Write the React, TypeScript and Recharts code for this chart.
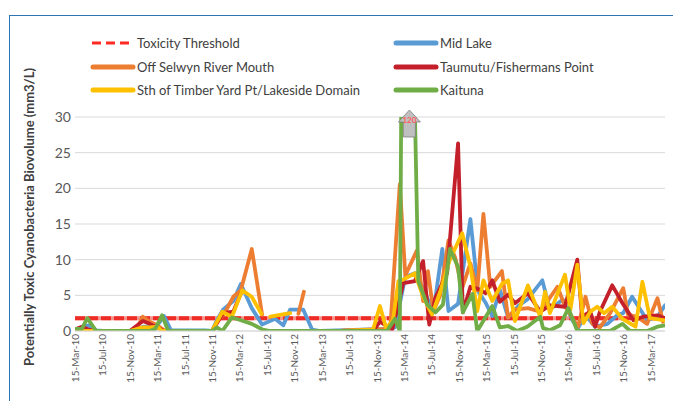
import React from 'react';
import { LineChart, Line, XAxis, YAxis, CartesianGrid, ReferenceDot } from 'recharts';

// x = months after 15-Mar-10, y = biovolume (mm3/L); null = no sample (gap in line)
type Pt = [number, number | null];

const tickLabels = [
  '15-Mar-10', '15-Jul-10', '15-Nov-10', '15-Mar-11', '15-Jul-11', '15-Nov-11',
  '15-Mar-12', '15-Jul-12', '15-Nov-12', '15-Mar-13', '15-Jul-13', '15-Nov-13',
  '15-Mar-14', '15-Jul-14', '15-Nov-14', '15-Mar-15', '15-Jul-15', '15-Nov-15',
  '15-Mar-16', '15-Jul-16', '15-Nov-16', '15-Mar-17',
];
const yTicks = [0, 5, 10, 15, 20, 25, 30];
const lastMonth = 86.1;
const threshold = 1.8;

const midLake: Pt[] = [
  [0, 0.2], [1.0, 0.5], [2.0, 0.8], [3.1, 0.1], [4.1, 0], [9.1, 0], [9.9, 0.6], [10.9, 0.6],
  [12.0, 0.8], [13.0, 2.1], [14.0, 0.1], [19.0, 0.1], [20.0, 0], [20.7, 1.5], [21.6, 3.0],
  [23.1, 4.2], [24.2, 6.6], [25.8, 3.2], [27.3, 0.9], [29.2, 1.7], [30.4, 0.8], [31.4, 3.0],
  [33.3, 3.0], [34.6, 0.2], [35.8, 0], [45.5, 0.3], [46.7, 0.5], [48.2, 7.6], [49.6, 8.1],
  [50.8, 6.0], [52.3, 2.6], [53.6, 11.5], [54.5, 2.8], [55.9, 3.8], [57.7, 15.7], [58.8, 5.6],
  [59.9, 4.0], [60.9, 2.1], [62.0, 5.8], [63.2, 1.9], [64.7, 3.5], [66.1, 4.5], [68.2, 7.1],
  [69.3, 3.0], [71.2, 4.4], [72.6, 1.5], [73.4, 0.4], [74.5, 2.2], [75.9, 0.6], [77.7, 1.0],
  [79.1, 2.2], [80.0, 2.5], [81.3, 4.8], [83.5, 1.5], [85.0, 2.0], [86.1, 3.6],
];

const offSelwyn: Pt[] = [
  [0, 0], [8.0, 0], [9.1, 0.5], [9.9, 2.0], [10.9, 1.3], [12.0, 0.8], [13.0, 0.1], [14.0, 0],
  [20.0, 0], [21.0, 1.6], [21.9, 2.6], [23.1, 4.8], [24.2, 5.7], [25.8, 11.5], [27.3, 2.3],
  [29.5, null], [32.6, 2.4], [33.4, 5.5], [35.0, null], [39.1, 0.1], [46.0, 0.3], [47.4, 20.6],
  [48.2, 7.8], [49.9, 11.3], [50.8, 4.2], [51.5, 8.4], [52.3, 2.8], [53.3, 5.0], [54.5, 12.7],
  [55.5, 10.2], [56.5, 6.0], [57.7, 9.5], [58.7, 5.7], [59.6, 16.4], [60.6, 6.2], [62.3, 8.4],
  [63.2, 1.9], [64.2, 3.0], [66.1, 3.2], [67.9, 2.7], [70.4, 6.2], [71.5, 3.5], [73.4, 0.6],
  [74.5, 4.8], [75.5, 1.0], [76.6, 0.5], [78.1, 2.5], [80.0, 6.0], [80.7, 2.3], [82.0, 2.0],
  [83.5, 1.0], [85.0, 4.6], [85.8, 1.3],
];

const taumutu: Pt[] = [
  [0, 0.2], [1.0, 0.6], [2.0, 0.2], [3.1, 0], [8.0, 0], [9.1, 0.8], [9.9, 1.4], [10.9, 1.0],
  [12.0, 0.5], [13.0, 0], [20.0, 0], [21.6, 2.5], [23.1, 2.7], [24.2, 5.3], [30.0, null],
  [43.5, 0], [44.5, 1.3], [46.3, 0.2], [47.9, 6.7], [49.6, 7.0], [50.8, 9.8], [51.7, 0.9],
  [52.6, 4.7], [54.3, 8.1], [55.9, 26.3], [56.6, 2.6], [57.7, 6.2], [58.8, 5.9], [59.9, 5.3],
  [60.9, 7.1], [62.0, 4.1], [63.2, 5.1], [64.2, 3.9], [66.1, 5.3], [67.9, 2.7], [69.3, 3.6],
  [71.5, 3.4], [73.3, 10.0], [74.0, 2.0], [75.2, 2.7], [75.9, 0.6], [76.6, 2.7], [78.4, 6.4],
  [79.9, 3.9], [81.5, 1.5], [82.9, 2.0], [85.0, 2.2], [86.1, 1.8],
];

const timberYard: Pt[] = [
  [0, 0], [8.0, 0], [9.1, 0.3], [9.9, 0.5], [10.9, 0.5], [12.0, 0.6], [12.7, 0], [20.0, 0],
  [21.5, 2.7], [22.9, 2.0], [24.4, 5.7], [25.8, 4.8], [27.2, 2.4], [27.8, null], [28.5, 2.0],
  [29.5, 2.2], [31.4, 2.5], [33.0, null], [39.1, 0], [43.5, 0.2], [44.5, 3.5], [45.4, 0.4],
  [46.4, 1.5], [47.2, 7.0], [47.9, 7.2], [49.6, 8.1], [50.8, 4.8], [52.1, 2.3], [53.3, 5.5],
  [54.7, 10.0], [56.5, 13.7], [57.7, 9.0], [58.7, 2.8], [59.6, 7.1], [60.9, 4.2], [62.3, 6.6],
  [63.2, 7.1], [64.2, 1.4], [66.1, 6.4], [67.9, 2.0], [68.6, 5.5], [69.3, 2.5], [71.5, 7.9],
  [72.3, 3.0], [73.3, 9.3], [74.2, 1.1], [75.2, 2.7], [76.2, 3.4], [77.2, 2.5], [78.4, 3.4],
  [79.9, 1.7], [81.8, 0.6], [82.8, 6.9], [83.9, 1.8], [86.1, 1.5],
];

const kaituna: Pt[] = [
  [0, 0.3], [1.0, 0.3], [1.8, 1.8], [3.1, 0], [10.9, 0], [11.7, 0.3], [12.7, 2.2], [13.6, 0],
  [20.0, 0], [20.7, 0.5], [21.5, 0], [22.9, 1.9], [24.2, 1.5], [25.8, 1.0], [27.4, 0.2],
  [28.5, 0], [45.5, 0], [46.7, 1.7], [47.4, 0], [48.2, 120], [49.3, 45], [50.1, 7.0],
  [51.4, 3.7], [52.6, 2.6], [53.7, 3.7], [54.7, 11.5], [55.9, 9.0], [56.6, 2.6], [58.0, 5.2],
  [58.7, 0], [60.9, 3.5], [62.0, 0.5], [63.2, 0.7], [64.5, 0], [66.0, 0.6], [67.9, 2.0],
  [68.3, 0.4], [69.3, 0.1], [70.8, 0.8], [72.0, 3.2], [73.3, 0], [78.1, 0], [79.9, 1.0],
  [81.0, 0], [83.5, 0], [85.0, 0.6], [86.1, 0.8],
];

// the Kaituna reading that runs off the top of the scale
const offScaleAt = 48.8;
const offScaleLabel = '120';

const thresholdLine: Pt[] = [[0, threshold], [lastMonth, threshold]];

const series = [
  { name: 'Mid Lake', color: '#5B9BD5', points: midLake },
  { name: 'Off Selwyn River Mouth', color: '#ED7D31', points: offSelwyn },
  { name: 'Taumutu/Fishermans Point', color: '#C3202B', points: taumutu },
  { name: 'Sth of Timber Yard Pt/Lakeside Domain', color: '#FFC000', points: timberYard },
  { name: 'Kaituna', color: '#70AD47', points: kaituna },
];

const legendItems = [
  { name: 'Toxicity Threshold', color: '#FF2A22', dashed: true },
  ...series.map((s) => ({ name: s.name, color: s.color, dashed: false })),
];

const toRows = (pts: Pt[]) => pts.map(([t, v]) => ({ t, v }));

function XTick({ x, y, payload }: any) {
  const label = tickLabels[Math.round(payload.value / 4)];
  return (
    <text
      x={x}
      y={y}
      transform={`rotate(-90 ${x} ${y})`}
      textAnchor="end"
      dominantBaseline="central"
      fontSize={10}
      fill="#595959"
    >
      {label}
    </text>
  );
}

function YTitle() {
  return (
    <text
      x={29}
      y={217}
      transform="rotate(-90 29 217)"
      textAnchor="middle"
      dominantBaseline="central"
      fontSize={13}
      fontWeight="bold"
      fill="#404040"
    >
      Potentially Toxic Cyanobacteria Biovolume (mm3/L)
    </text>
  );
}

function OffScaleArrow({ cx, cy }: any) {
  const pts = [
    [cx, cy - 7], [cx + 11, cy + 5], [cx + 6, cy + 5], [cx + 6, cy + 20],
    [cx - 6, cy + 20], [cx - 6, cy + 5], [cx - 11, cy + 5],
  ].map((p) => p.join(',')).join(' ');
  return (
    <g>
      <polygon points={pts} fill="#BFBFBF" stroke="#7F7F7F" strokeWidth={0.8} />
      <text x={cx} y={cy + 3} textAnchor="middle" dominantBaseline="central" fontSize={8} fontWeight="bold" fill="#FF5B5B">
        {offScaleLabel}
      </text>
    </g>
  );
}

function LegendIcon({ color, dashed }: { color: string; dashed: boolean }) {
  return (
    <svg width={46} height={10} style={{ display: 'block' }}>
      {dashed ? (
        <line x1={2} y1={5} x2={40} y2={5} stroke={color} strokeWidth={3} strokeDasharray="9 5" />
      ) : (
        <line x1={3} y1={5} x2={43} y2={5} stroke={color} strokeWidth={5} strokeLinecap="round" />
      )}
    </svg>
  );
}

export default function App() {
  return (
    <div
      style={{
        position: 'absolute',
        left: 0,
        top: 0,
        width: 673,
        height: 401,
        overflow: 'hidden',
        background: '#FFFFFF',
        fontFamily: 'Lato, sans-serif',
      }}
    >
      <div
        style={{
          position: 'absolute',
          left: 9,
          top: 15,
          width: 720,
          height: 440,
          borderLeft: '1.5px solid #2E75B6',
          borderTop: '1.5px solid #2E75B6',
        }}
      />

      <LineChart
        width={673}
        height={401}
        margin={{ top: 117, right: 8, bottom: 11, left: 35 }}
        style={{ position: 'absolute', left: 0, top: 0 }}
      >
        <CartesianGrid vertical={false} stroke="#D9D9D9" />
        <XAxis
          type="number"
          dataKey="t"
          domain={[0, lastMonth]}
          ticks={tickLabels.map((_, i) => i * 4)}
          interval={0}
          allowDataOverflow
          tick={<XTick />}
          tickLine={false}
          tickSize={3}
          tickMargin={0}
          axisLine={{ stroke: '#D9D9D9' }}
          height={59}
        />
        <YAxis
          type="number"
          domain={[0, 30]}
          ticks={yTicks}
          allowDataOverflow
          tickLine={false}
          axisLine={false}
          tickSize={4}
          tickMargin={0}
          width={40}
          tick={{ fontSize: 14, fill: '#595959' }}
          label={<YTitle />}
        />

        <Line
          data={toRows(thresholdLine)}
          dataKey="v"
          stroke="#F4928C"
          strokeWidth={4}
          dot={false}
          isAnimationActive={false}
        />
        <Line
          data={toRows(thresholdLine)}
          dataKey="v"
          stroke="#EE2B24"
          strokeWidth={4}
          strokeDasharray="10 3"
          dot={false}
          isAnimationActive={false}
        />

        {series.map((s) => (
          <Line
            key={s.name}
            data={toRows(s.points)}
            dataKey="v"
            name={s.name}
            stroke={s.color}
            strokeWidth={3.8}
            strokeLinejoin="round"
            strokeLinecap="round"
            dot={false}
            isAnimationActive={false}
          />
        ))}

        <ReferenceDot x={offScaleAt} y={30} r={0} ifOverflow="visible" shape={(p: any) => <OffScaleArrow cx={p.cx} cy={p.cy} />} />
      </LineChart>

      {legendItems.map((item, i) => {
        const col = i % 2;
        const row = Math.floor(i / 2);
        return (
          <div
            key={item.name}
            style={{
              position: 'absolute',
              left: col === 0 ? 90 : 393,
              top: 34 + row * 23.5,
              height: 18,
              display: 'flex',
              alignItems: 'center',
              fontSize: 13,
              color: '#404040',
              whiteSpace: 'nowrap',
            }}
          >
            <LegendIcon color={item.color} dashed={item.dashed} />
            <span style={{ marginLeft: 1 }}>{item.name}</span>
          </div>
        );
      })}
    </div>
  );
}
